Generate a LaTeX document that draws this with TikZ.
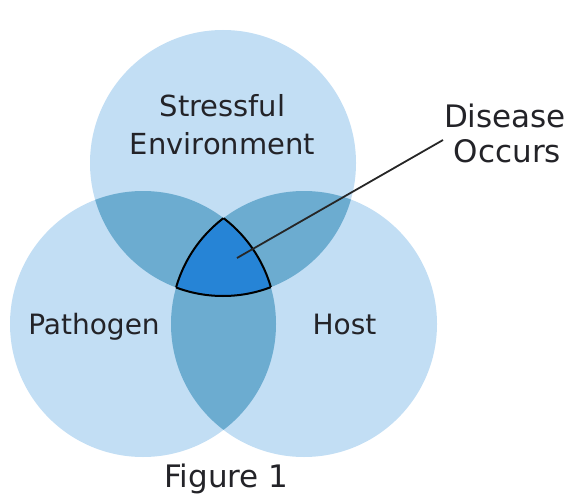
\documentclass[tikz,border=0pt]{standalone}
\usepackage{fontspec}
\setmainfont{DejaVu Sans}
\definecolor{cone}{RGB}{194,222,244}
\definecolor{ctwo}{RGB}{108,172,208}
\definecolor{cthree}{RGB}{38,132,214}
\definecolor{txt}{RGB}{35,35,40}
\begin{document}
\begin{tikzpicture}[x=1pt,y=-1pt,
  lbl/.style={font=\fontsize{29}{32}\selectfont, text=txt, anchor=base, inner sep=0pt},
  biglbl/.style={lbl, font=\fontsize{31}{34}\selectfont},
  smalllbl/.style={lbl, font=\fontsize{28}{31}\selectfont},
  rim/.style={draw=black, line width=2pt},
  pointer/.style={draw=black!85, line width=1.8pt}]
\useasboundingbox (0,0) rectangle (580,497);
\def\Top{(223,163) circle[radius=133pt]}
\def\Lft{(143,324) circle[radius=133pt]}
\def\Rgt{(304,324) circle[radius=133pt]}
% single regions
\fill[cone] \Top;
\fill[cone] \Lft;
\fill[cone] \Rgt;
% pairwise overlaps
\begin{scope}\clip \Top; \fill[ctwo] \Lft; \fill[ctwo] \Rgt; \end{scope}
\begin{scope}\clip \Lft; \fill[ctwo] \Rgt; \end{scope}
% triple overlap
\begin{scope}\clip \Top; \clip \Lft; \fill[cthree] \Rgt; \end{scope}
% outline of the triple overlap
\begin{scope}\clip \Lft; \clip \Rgt; \path[rim] \Top; \end{scope}
\begin{scope}\clip \Top; \clip \Rgt; \path[rim] \Lft; \end{scope}
\begin{scope}\clip \Top; \clip \Lft; \path[rim] \Rgt; \end{scope}
% labels
\node[lbl] (stress) at (222.5,117) {Stressful};
\node[lbl] (env) at (222.5,155) {Environment};
\node[smalllbl] (path) at (94,334) {Pathogen};
\node[smalllbl] (host) at (344.5,334) {Host};
\node[biglbl] (dis) at (505,128) {Disease};
\node[biglbl] (occ) at (507.5,162) {Occurs};
\node[biglbl] (fig) at (226.5,487) {Figure 1};
% pointer
\coordinate (tip) at (237,258);
\coordinate (tail) at (443,140);
\path[pointer] (tip) -- (tail);
\end{tikzpicture}
\end{document}
